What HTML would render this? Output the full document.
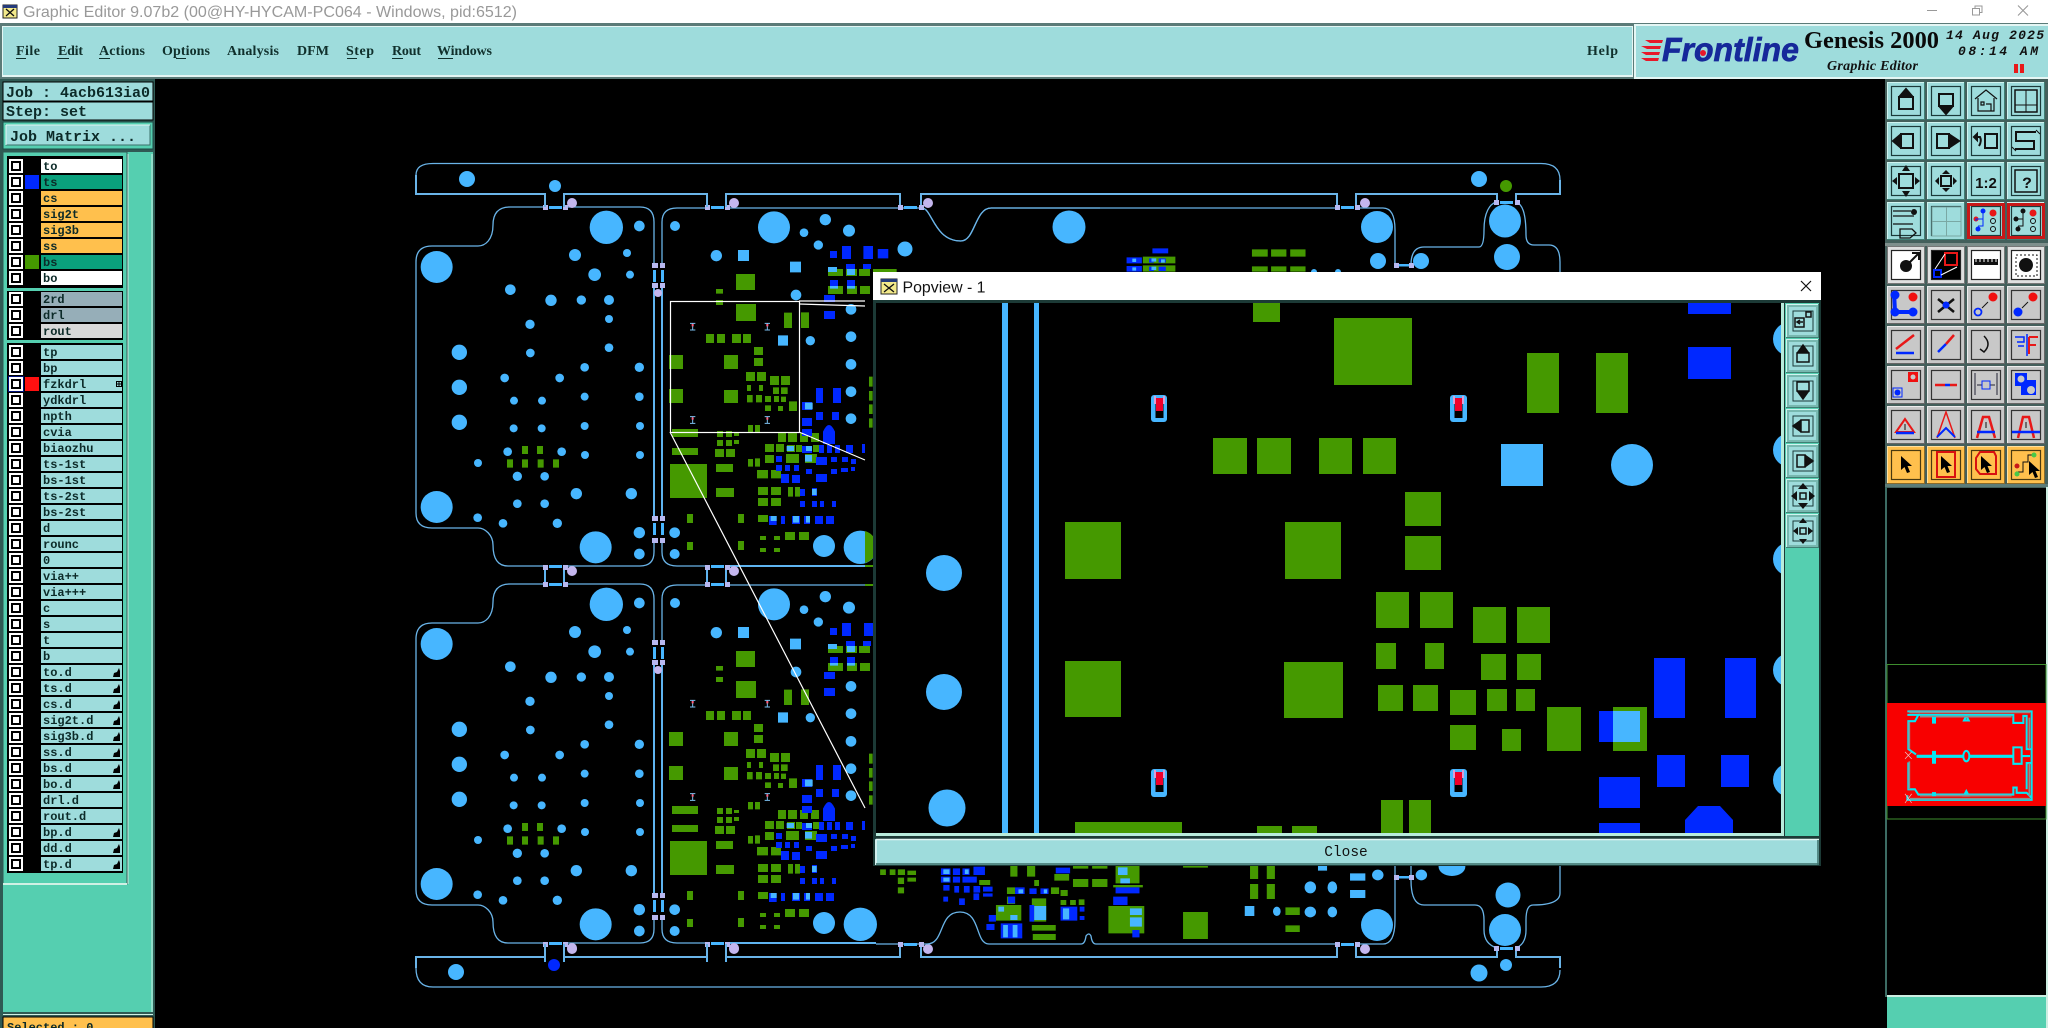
<!DOCTYPE html>
<html><head><meta charset="utf-8"><title>Graphic Editor</title>
<style>
html,body{margin:0;padding:0;background:#000;width:2048px;height:1028px;overflow:hidden}
svg{display:block}
.m{font:bold 14px "Liberation Serif",serif;fill:#10302c}
.r{font:bold 12px "Liberation Mono",monospace;fill:#0c2a28}
.h{font:bold 15px "Liberation Mono",monospace;fill:#0c2a28}
</style></head><body>
<svg width="2048" height="1028" viewBox="0 0 2048 1028" xmlns="http://www.w3.org/2000/svg">
<defs>
<g id="cb"><rect width="14" height="14" fill="#fff"/><rect x="2" y="2" width="10" height="10" fill="#000"/><rect x="4" y="4" width="6" height="6" fill="#fff"/></g>
<path id="hd" d="M0 9 1 5 4 4 6 0 7 3 7 9Z" fill="#000"/>
<g id="bT"><rect width="38" height="38" fill="#3f7f74"/><path d="M0 0H37V1H1V37H0Z" fill="#d0f4f0"/><rect x="1" y="1" width="36" height="36" fill="#9edcdc"/><rect x="4.500" y="4.500" width="29" height="29" fill="none" stroke="#1c3a3a" stroke-width="1.200"/></g>
<g id="bG"><rect width="38" height="38" fill="#666"/><path d="M0 0H37V1H1V37H0Z" fill="#eee"/><rect x="1" y="1" width="36" height="36" fill="#c8c8c8"/><rect x="4.500" y="4.500" width="29" height="29" fill="none" stroke="#333" stroke-width="1.200"/></g>
<g id="bW"><rect width="38" height="38" fill="#777"/><rect x="1" y="1" width="36" height="36" fill="#e0e0e0"/><rect x="4.500" y="4.500" width="29" height="29" fill="#fff" stroke="#222" stroke-width="1.200"/></g>
<g id="bO"><rect width="38" height="38" fill="#8a6a2a"/><path d="M0 0H37V1H1V37H0Z" fill="#ffe0a0"/><rect x="1" y="1" width="36" height="36" fill="#ffc04d"/><rect x="4.500" y="4.500" width="29" height="29" fill="none" stroke="#4a3a10" stroke-width="1.200"/></g>
<g id="bP"><rect width="33" height="34" fill="#3f7f74"/><path d="M0 0H32V1H1V33H0Z" fill="#d0f4f0"/><rect x="1" y="1" width="31" height="32" fill="#78b8b0"/><rect x="3" y="3" width="27" height="28" fill="#9edcdc"/><rect x="7" y="7" width="20" height="20" fill="none" stroke="#1c3a3a" stroke-width="1"/></g>
<path id="arw" d="M0 0 0 14 3.500 11 6 17 9 16 6.500 10 11 10Z" fill="#000"/>

<g id="L">
<g fill="none" stroke="#6ab4e8" stroke-width="1.300">
<path d="M545 207H510Q493 207 493 225C493 240 485 246 478 246H432Q416 246 416 262V513Q416 528 432 528H478C485 528 493 535 493 545Q493 566 508 566H545"/>
<path d="M564 207H640Q654 207 654 222V265M654 540V552Q654 566 640 566H564"/>
<path d="M662 265V222Q662 208 677 208H707M726 208H922C932 208 934 241 961 241C975 241 975 208 991 208H1100"/>
<path d="M662 540V552Q662 566 677 566H707"/>
</g>
<g fill="none" stroke="#5fb4f0" stroke-width="2">
<path d="M654 285V518M662 285V518M726 566H876M545 566V585M564 566V585M707 566V585M726 566V585"/>
</g>
<g fill="#b8b8f0">
<path d="M543 205h5v5h-5zM563 205h5v5h-5zM705 205h5v5h-5zM725 205h5v5h-5zM652 263h6v5h-6zM660 263h5v5h-5zM652 283h6v5h-6zM660 283h5v5h-5zM652 516h6v5h-6zM660 516h5v5h-5zM652 538h6v5h-6zM660 538h5v5h-5zM543 565h5v5h-5zM563 565h5v5h-5zM705 565h5v5h-5zM725 565h5v5h-5z"/>
</g>
<circle cx="572" cy="571" r="5" fill="#c4b6ee"/><circle cx="734" cy="571" r="5" fill="#c4b6ee"/><circle cx="658" cy="293" r="4" fill="#c4b6ee"/>
<path d="M549 206h13v3h-13zM711 206h13v3h-13zM653 270h3v12h-3zM661 270h3v12h-3zM653 523h3v12h-3zM661 523h3v12h-3zM549 565h13v3h-13zM711 565h13v3h-13z" fill="#47b6ff"/>
<g transform="translate(400 150) scale(.33333)">
<g fill="#47b6ff">
<circle cx="110" cy="351" r="48"/><circle cx="110" cy="1071" r="48"/><circle cx="619" cy="232" r="50"/><circle cx="587" cy="1192" r="48"/><circle cx="718" cy="228" r="16"/><circle cx="525" cy="315" r="18"/><circle cx="681" cy="309" r="12"/><circle cx="584" cy="374" r="19"/><circle cx="690" cy="374" r="12"/><circle cx="331" cy="419" r="16"/><circle cx="453" cy="451" r="17"/><circle cx="544" cy="450" r="14"/><circle cx="627" cy="450" r="15"/><circle cx="390" cy="523" r="14"/><circle cx="627" cy="507" r="12"/><circle cx="391" cy="609" r="13"/><circle cx="627" cy="593" r="13"/><circle cx="178" cy="607" r="23"/><circle cx="178" cy="712" r="23"/><circle cx="178" cy="817" r="23"/><circle cx="554" cy="652" r="13"/><circle cx="718" cy="652" r="14"/><circle cx="314" cy="684" r="13"/><circle cx="479" cy="684" r="13"/><circle cx="342" cy="752" r="12"/><circle cx="426" cy="752" r="12"/><circle cx="554" cy="740" r="12"/><circle cx="718" cy="740" r="13"/><circle cx="341" cy="835" r="12"/><circle cx="425" cy="835" r="12"/><circle cx="554" cy="828" r="12"/><circle cx="720" cy="828" r="12"/><circle cx="323" cy="905" r="13"/><circle cx="485" cy="905" r="13"/><circle cx="555" cy="915" r="12"/><circle cx="720" cy="915" r="12"/><circle cx="234" cy="939" r="12"/><circle cx="352" cy="979" r="14"/><circle cx="434" cy="979" r="13"/><circle cx="529" cy="1031" r="17"/><circle cx="694" cy="1031" r="17"/><circle cx="352" cy="1061" r="13"/><circle cx="434" cy="1061" r="13"/><circle cx="233" cy="1103" r="13"/><circle cx="309" cy="1120" r="13"/><circle cx="472" cy="1120" r="14"/><circle cx="718" cy="1148" r="17"/><circle cx="718" cy="1212" r="16"/>
<circle cx="1122" cy="232" r="48"/><circle cx="825" cy="228" r="15"/><circle cx="1276" cy="209" r="17"/><circle cx="1212" cy="248" r="13"/><circle cx="1347" cy="242" r="18"/><circle cx="1255" cy="285" r="14"/><circle cx="949" cy="317" r="17"/><circle cx="1188" cy="435" r="16"/><circle cx="1353" cy="478" r="16"/><circle cx="1231" cy="572" r="14"/><circle cx="1353" cy="560" r="16"/><circle cx="1353" cy="643" r="16"/><circle cx="1353" cy="725" r="16"/><circle cx="1353" cy="806" r="16"/><circle cx="824" cy="1148" r="16"/><circle cx="824" cy="1212" r="15"/><circle cx="1272" cy="1188" r="33"/><circle cx="1381" cy="1192" r="50"/>
<path d="M1014 300H1047V333H1014ZM1170 335H1203V367H1170ZM1134 556H1164V587H1134Z"/>
</g>
<path fill="#459900" d="M366 888H384V912H366ZM411 888H429V912H411ZM321 928H339V953H321ZM366 928H384V953H366ZM413 928H431V953H413ZM459 928H477V953H459ZM1008 372H1065V420H1008ZM1008 462H1068V513H1008ZM1152 488H1176V534H1152ZM1203 487H1227V534H1203ZM948 417H969V431H948ZM948 450H969V465H948ZM918 552H942V579H918ZM951 552H975V579H951ZM996 552H1023V579H996ZM1029 552H1053V579H1029ZM1062 591H1089V615H1062ZM1062 624H1089V648H1062ZM807 615H849V657H807ZM807 717H849V759H807ZM972 615H1014V657H972ZM972 720H1014V759H972ZM1038 666H1065V693H1038ZM1071 666H1098V693H1071ZM1110 678H1137V705H1110ZM1143 678H1170V705H1143ZM1041 705H1053V723H1041ZM1077 705H1089V723H1077ZM1119 712H1137V732H1119ZM1143 712H1163V732H1143ZM1041 735H1058V757H1041ZM1068 735H1086V757H1068ZM1095 738H1113V756H1095ZM1122 738H1137V756H1122ZM1143 740H1158V756H1143ZM1095 766H1113V783H1095ZM1134 768H1149V783H1134ZM1167 754H1191V783H1167ZM816 837H894V861H816ZM816 894H894V915H816ZM810 942H921V1044H810ZM948 942H999V966H948ZM948 1014H1002V1041H948ZM951 843H969V861H951ZM978 843H996V861H978ZM951 870H969V888H951ZM978 870H996V888H978ZM1002 849H1017V858H1002ZM1002 870H1017V882H1002ZM945 897H972V921H945ZM978 897H1005V921H978ZM1044 825H1059V847H1044ZM1065 825H1080V847H1065ZM1134 849H1158V876H1134ZM1164 849H1191V876H1164ZM1200 849H1224V876H1200ZM1233 849H1257V876H1233ZM1095 882H1122V906H1095ZM1128 882H1152V906H1128ZM1161 885H1185V906H1161ZM1188 885H1206V906H1188ZM1239 885H1260V906H1239ZM1044 927H1059V950H1044ZM1065 925H1080V950H1065ZM1095 915H1122V939H1095ZM1158 912H1197V939H1158ZM1215 912H1251V939H1215ZM1071 960H1104V985H1071ZM1113 960H1143V985H1113ZM1074 1011H1104V1035H1074ZM1113 1011H1143V1035H1113ZM1164 1011H1179V1040H1164ZM1185 1011H1200V1040H1185ZM1074 1044H1104V1068H1074ZM1113 1044H1143V1068H1113ZM1074 1095H1104V1116H1074ZM861 1092H879V1119H861ZM1014 1092H1032V1119H1014ZM861 1176H879V1200H861ZM1014 1173H1032V1200H1014ZM1080 1158H1098V1170H1080ZM1122 1158H1140V1170H1122ZM1080 1194H1098V1206H1080ZM1122 1194H1140V1206H1122ZM1155 1146H1185V1170H1155ZM1197 1146H1227V1170H1197ZM1284 357H1329V378H1284ZM1338 357H1371V378H1338ZM1377 357H1410V378H1377ZM1419 357H1490V378H1419ZM1284 408H1329V432H1284ZM1341 408H1371V432H1341ZM1380 408H1410V432H1380ZM1407 680H1418V710H1407ZM1407 723H1418V752H1407ZM1407 763H1418V792H1407ZM1407 805H1418V833H1407Z"/>
<path fill="#0028ff" d="M1290 303H1311V324H1290ZM1326 288H1353V327H1326ZM1392 288H1419V327H1392ZM1434 297H1464V324H1434ZM1338 342H1365V357H1338ZM1389 342H1413V357H1389ZM1290 390H1314V408H1290ZM1341 390H1365V408H1341ZM1272 435H1305V456H1272ZM1272 483H1305V507H1272ZM1248 714H1269V759H1248ZM1299 714H1323V759H1299ZM1206 756H1236V780H1206ZM1248 786H1269V810H1248ZM1296 786H1317V810H1296ZM1206 804H1236V828H1206ZM1206 837H1236V858H1206ZM1269 845Q1287 805 1305 845V882H1269ZM1206 888H1236V909H1206ZM1257 885H1272V909H1257ZM1281 885H1296V909H1281ZM1305 885H1320V909H1305ZM1338 885H1359V909H1338ZM1386 882H1395V909H1386ZM1128 918H1146V936H1128ZM1248 921H1281V945H1248ZM1293 921H1311V936H1293ZM1326 921H1344V936H1326ZM1353 927H1368V942H1353ZM1128 945H1146V963H1128ZM1155 945H1170V963H1155ZM1182 945H1197V963H1182ZM1218 957H1236V972H1218ZM1293 957H1311V972H1293ZM1323 954H1344V966H1323ZM1353 951H1365V963H1353ZM1143 972H1167V999H1143ZM1176 975H1200V999H1176ZM1248 972H1281V996H1248ZM1200 1017H1215V1038H1200ZM1236 1014H1251V1038H1236ZM1200 1053H1215V1071H1200ZM1236 1053H1251V1071H1236ZM1260 1053H1272V1071H1260ZM1296 1053H1308V1071H1296ZM1107 1098H1130V1125H1107ZM1143 1098H1155V1122H1143ZM1176 1098H1200V1122H1176ZM1212 1098H1230V1122H1212ZM1245 1098H1269V1122H1245ZM1278 1098H1302V1122H1278Z"/>
<path fill="#47b6ff" d="M1284 351H1311V366H1284ZM1341 357H1365V375H1341ZM1290 408H1314V416H1290ZM1341 408H1365V416H1341ZM1215 758H1238V778H1215ZM1112 1098H1130V1113H1112ZM1179 1098H1197V1118H1179ZM1218 1098H1230V1118H1218ZM1160 888H1182V903H1160ZM1218 888H1236V903H1218ZM1236 1017H1250V1035H1236ZM1215 915H1236V935H1215Z"/>
<g fill="none" stroke="#7cc0f0" stroke-width="3"><path d="M870 520H886M870 540H886M878 520V540M1094 520H1110M1094 540H1110M1102 520V540M870 800H886M870 820H886M878 800V820M1094 800H1110M1094 820H1110M1102 800V820"/></g>
<path d="M875 522h6v7h-6zM1099 522h6v7h-6zM875 802h6v7h-6zM1099 802h6v7h-6z" fill="#ff5a78"/>
</g>
</g>
</defs>

<rect width="2048" height="1028" fill="#000"/>

<use href="#L"/>
<use href="#L" y="377"/>
<path d="M865 531A16.700 16.700 0 0 1 865 563ZM865 565h9v2h-9zM865 584h9v2h-9z" fill="#459900"/>

<!-- rails -->
<g fill="none" stroke="#6ab4e8">
<path stroke-width="1.300" d="M416 175Q416 163.500 433 163.500H1541Q1560 163.500 1560 180"/>
<path stroke-width="2" d="M416 175V194H545V207M564 207V194H707V207M726 207V194H900V207M921 207V194H1337V207M1356 207V194H1497V202M1516 202V194H1560V180"/>
<path stroke-width="2" d="M416 968V957H545V944M564 944V957H707V944M726 944V957H900V944M921 944V957H1337V944M1356 944V957H1497V948M1516 948V957H1560V968"/>
<path stroke-width="1.300" d="M416 968Q416 987 433 987H1541Q1560 987 1560 970"/>
</g>
<g fill="#47b6ff"><circle cx="467" cy="179" r="8"/><circle cx="555" cy="186" r="6"/><circle cx="456" cy="972" r="8"/><circle cx="1479" cy="179" r="8"/><circle cx="1479" cy="973" r="8.500"/><circle cx="1506" cy="965" r="6"/></g>
<circle cx="1506" cy="186" r="6" fill="#459900"/><circle cx="554" cy="965" r="6" fill="#0028ff"/>
<g fill="#c4b6ee"><circle cx="572" cy="203" r="5"/><circle cx="734" cy="203" r="5"/><circle cx="928" cy="203" r="5"/><circle cx="1365" cy="203" r="5"/><circle cx="572" cy="949" r="5"/><circle cx="734" cy="949" r="5"/><circle cx="928" cy="949" r="5"/><circle cx="1365" cy="949" r="5"/></g>

<!-- right side of outlines -->
<g fill="none" stroke="#6ab4e8" stroke-width="1.300">
<path d="M922 208C932 208 934 241 961 241C975 241 975 208 991 208H1337M1356 208H1383Q1395 208 1395 230V265M1411 265Q1411 247 1424 247H1479Q1484 247 1484 230C1484 212 1490 204 1496 202M1516 202C1522 204 1526 212 1526 235Q1526 245 1534 245H1549Q1560 245 1560 262V280"/>
<path d="M1560 860V893Q1560 905 1533 905Q1526 905 1526 920V930Q1526 944 1516 948M1497 948Q1484 944 1484 930V920Q1484 905 1475 905H1424Q1411 905 1411 880V866M1395 866V920Q1395 944 1383 944H1356M1337 944H1096Q1092 944 1091 936Q1089 932 1086 936Q1085 944 1081 944H989C975 944 981 912 960 912C938 912 945 944 927 944H876"/>
</g>
<path d="M1396 264h15v2.500h-15zM1500 201h13v3h-13zM1500 947h13v3h-13zM1396 876h15v2.500h-15zM904 206h13v3h-13zM1341 206h13v3h-13zM904 943h13v3h-13zM1341 943h13v3h-13z" fill="#47b6ff"/>
<path d="M898 205h5v5h-5zM919 205h5v5h-5zM1335 205h5v5h-5zM1355 205h5v5h-5zM1494 200h5v5h-5zM1515 200h5v5h-5zM1394 263h5v5h-5zM1409 263h5v5h-5zM898 942h5v5h-5zM919 942h5v5h-5zM1335 942h5v5h-5zM1355 942h5v5h-5zM1494 946h5v5h-5zM1515 946h5v5h-5zM1394 875h5v5h-5zM1409 875h5v5h-5z" fill="#b8b8f0"/>

<!-- top cluster -->
<g fill="#47b6ff"><circle cx="905" cy="249" r="7.500"/><circle cx="1069" cy="227" r="16.500"/><circle cx="1377" cy="227" r="16"/><ellipse cx="1505" cy="221" rx="16" ry="16.500"/><circle cx="1507" cy="257" r="13"/><circle cx="1378" cy="261" r="8"/><circle cx="1421" cy="261" r="8"/><circle cx="1314" cy="272" r="3"/><circle cx="1338" cy="272" r="3"/></g>
<g transform="translate(850 150) scale(.4785 .3333)">
<path fill="#459900" d="M840 298H873V320H840ZM880 298H912V320H880ZM920 298H952V320H920ZM840 349H873V365H840ZM880 349H912V365H880ZM920 349H952V365H920ZM612 320H680V340H612ZM612 346H680V365H612Z"/>
<path fill="#0028ff" d="M632 295H665V310H632ZM578 322H610V340H578ZM578 348H610V365H578ZM28 288H48V327H28ZM58 297H80V325H58ZM625 325H635V338H625ZM645 325H660V338H645ZM625 350H635V363H625ZM645 350H660V363H645Z"/>
<path fill="#47b6ff" d="M590 326H598V336H590ZM630 325H640V335H630ZM650 328H658V338H650ZM590 352H598V362H590ZM630 350H640V360H630Z"/>
</g>

<!-- bottom clusters -->
<g fill="#47b6ff"><circle cx="1377" cy="925" r="16"/><circle cx="1508" cy="895" r="12.500"/><circle cx="1505" cy="930" r="16"/></g>
<g transform="translate(850 830) scale(.4785 .3333)">
<g fill="#47b6ff"><ellipse cx="962" cy="172" rx="12" ry="18"/><ellipse cx="1008" cy="172" rx="10" ry="18"/><ellipse cx="892" cy="244" rx="8" ry="14"/><ellipse cx="962" cy="246" rx="12" ry="16"/><ellipse cx="1008" cy="246" rx="10" ry="16"/><ellipse cx="1103" cy="135" rx="12" ry="16"/><ellipse cx="1194" cy="135" rx="12" ry="16"/><ellipse cx="1258" cy="110" rx="28" ry="28"/>
<path d="M1045 130H1077V152H1045ZM1045 180H1077V204H1045ZM825 228H845V258H825ZM978 108H997V122H978Z"/></g>
<path fill="#459900" d="M63 118H75V135H63ZM83 118H95V135H83ZM100 118H115V135H100ZM120 122H138V135H120ZM100 143H113V162H100ZM120 143H138V155H120ZM100 172H113V190H100ZM270 150H293V165H270ZM335 108H350V140H335ZM370 108H387V140H370ZM427 132H458V152H427ZM385 150H395V168H385ZM466 147H498V171H466ZM506 147H538V171H506ZM328 172H345V192H328ZM420 172H437V192H420ZM440 180H455V198H440ZM555 108H605V160H555ZM550 165H612V172H550ZM910 232H940V255H910ZM910 286H940V306H910ZM696 246H748V327H696ZM836 108H853V147H836ZM871 108H888V147H871ZM836 162H853V207H836ZM871 162H888V207H871ZM440 210H452V225H440ZM460 210H472V225H460ZM478 208H490V225H478ZM380 205H410V275H380ZM540 228H615V310H540ZM305 225H358V272H305ZM380 285H430V302H380ZM382 312H430V330H382ZM328 200H345V222H328ZM696 108H748V113H696ZM466 108H498V116H466ZM506 108H538V116H506Z"/>
<path fill="#0028ff" d="M190 115H210V135H190ZM215 115H230V135H215ZM235 115H250V135H235ZM258 110H282V135H258ZM190 140H210V158H190ZM215 140H230V158H215ZM235 140H265V158H235ZM195 165H208V182H195ZM218 168H228V188H218ZM238 168H250V188H238ZM258 168H272V188H258ZM278 170H298V185H278ZM195 200H205V215H195ZM228 205H240V225H228ZM258 190H270V210H258ZM278 190H298V200H278ZM430 113H460V130H430ZM290 255H305V275H290ZM285 282H302V300H285ZM315 280H360V325H315ZM345 172H365V192H345ZM375 175H390V192H375ZM398 175H415V192H398ZM440 230H475V272H440ZM480 230H490V245H480ZM480 258H490V270H480ZM555 172H605V190H555ZM550 200H580V225H550ZM590 300H605V322H590ZM375 225H385V275H375ZM330 200H345V220H330Z"/>
<path fill="#47b6ff" d="M195 118H208V132H195ZM240 118H248V132H240ZM195 143H208V155H195ZM310 230H322V245H310ZM335 255H350V270H335ZM320 285H330V322H320ZM340 285H350V322H340ZM385 228H410V270H385ZM445 235H458V268H445ZM560 112H580V135H560ZM565 145H585V160H565ZM585 235H610V255H585ZM585 262H610V290H585ZM352 178H362V190H352ZM405 178H412V190H405Z"/>
</g>

<!-- rubber band -->
<g fill="none" stroke="#fff" stroke-width="1.200">
<rect x="670.500" y="301.500" width="129" height="131"/>
<path d="M799 301H865M799 304 865 306M799 432 865 460M670 432 865 808"/>
</g>

<!-- title bar -->
<rect width="2048" height="23" fill="#fff"/>
<rect y="23" width="2048" height="3" fill="#5b7b78"/>
<rect x="3" y="5" width="14" height="13" fill="#f3e98a" stroke="#222"/><rect x="3" y="5" width="14" height="3" fill="#243a7a"/><path d="M6 9 14 16M14 9 6 16" stroke="#111" stroke-width="1.300"/>
<text x="23" y="17" font-family="'Liberation Sans',sans-serif" font-size="16" fill="#999" textLength="494" lengthAdjust="spacingAndGlyphs">Graphic Editor 9.07b2 (00@HY-HYCAM-PC064 - Windows, pid:6512)</text>
<path d="M1927 10.500H1937" stroke="#999"/><rect x="1972.500" y="8.500" width="7" height="6.500" fill="#fff" stroke="#999"/><path d="M1975 8V6H1982V12.500H1980" fill="none" stroke="#999"/><path d="M2018 5.500 2028 15.500M2028 5.500 2018 15.500" stroke="#999" stroke-width="1.100"/>

<!-- menu -->
<rect x="0" y="26" width="1634" height="53" fill="#5b7b78"/>
<rect x="2" y="26" width="1631" height="51" fill="#e4f6f4"/>
<rect x="3" y="27" width="1629" height="48" fill="#9edcdc"/>
<text class="m" x="16" y="55" textLength="24">File</text>
<text class="m" x="58" y="55" textLength="25">Edit</text>
<text class="m" x="99" y="55" textLength="46">Actions</text>
<text class="m" x="162" y="55" textLength="48">Options</text>
<text class="m" x="227" y="55" textLength="52">Analysis</text>
<text class="m" x="297" y="55" textLength="32">DFM</text>
<text class="m" x="346" y="55" textLength="28">Step</text>
<text class="m" x="392" y="55" textLength="29">Rout</text>
<text class="m" x="437" y="55" textLength="55">Windows</text>
<path d="M16 58.500H26M57 58.500H69M99 58.500H110M176 58.500H186M347 58.500H357M392 58.500H403M438 58.500H453" stroke="#10302c"/>
<text class="m" x="1587" y="55" textLength="31">Help</text>

<!-- logo -->
<rect x="1634" y="24" width="414" height="55" fill="#e4f6f4"/>
<rect x="1636" y="26" width="412" height="51" fill="#9edcdc"/>
<path d="M1645 40H1663L1662 43H1650ZM1641 46H1661L1660 49H1647ZM1641 52H1660L1659 55H1646ZM1641 58H1659L1658 61H1646Z" fill="#e8182a"/>
<text transform="translate(1662 61) scale(.97 1)" font-family="'Liberation Sans',sans-serif" font-weight="bold" font-style="italic" font-size="33" fill="#16289a" stroke="#16289a" stroke-width=".7">Frontline</text>
<circle cx="1703" cy="53" r="3" fill="#e8182a"/>
<text x="1804" y="48" font-family="'Liberation Serif',serif" font-weight="bold" font-size="24" fill="#0a0a0a" textLength="135" lengthAdjust="spacingAndGlyphs">Genesis 2000</text>
<text x="1946" y="39" font-family="'Liberation Mono',monospace" font-weight="bold" font-style="italic" font-size="13" fill="#111" textLength="98">14 Aug 2025</text>
<text x="1958" y="55" font-family="'Liberation Mono',monospace" font-weight="bold" font-style="italic" font-size="13" fill="#111" textLength="80">08:14 AM</text>
<text x="1827" y="70" font-family="'Liberation Serif',serif" font-weight="bold" font-style="italic" font-size="14" fill="#111" textLength="91">Graphic Editor</text>
<path d="M2014 64h4v9h-4zM2020 64h4v9h-4z" fill="#e81a1a"/>

<!-- left panel -->
<rect x="0" y="79" width="155" height="949" fill="#2f5a54"/>
<rect x="3" y="82" width="150" height="19" fill="#9edcdc" stroke="#000"/>
<rect x="3" y="102" width="150" height="18" fill="#9edcdc" stroke="#000"/>
<text class="h" x="6" y="97">Job : 4acb613ia0</text>
<text class="h" x="6" y="116">Step: set</text>
<rect x="3" y="122" width="150" height="27" fill="#55cfb0" stroke="#1c4a44"/>
<rect x="6" y="125" width="144" height="20" fill="#9edcdc" stroke="#3b6f6a"/><path d="M6 125H150M6 125V145" stroke="#e4f6f4"/>
<text class="h" x="10" y="141">Job Matrix ...</text>
<rect x="3" y="152" width="150" height="860" fill="#55cfb0"/>
<rect x="3" y="152" width="124" height="732" fill="#55cfb0" stroke="#2f5a54"/>
<path d="M128 154V884M152 154V1012" stroke="#cdeee2" stroke-width="1"/>
<path d="M3 884H127" stroke="#d0f0e4" stroke-width="2"/>
<rect x="7" y="156" width="116" height="132" fill="#000"/><rect x="7" y="291" width="116" height="49" fill="#000"/><rect x="7" y="343" width="116" height="530" fill="#000"/>
<rect x="3" y="1014" width="150" height="1" fill="#d0f0e4"/>
<rect x="3" y="1017" width="150" height="12" fill="#ffc04d" stroke="#000"/>
<text class="r" x="7" y="1031">Selected : 0</text>

<!-- layer rows -->
<g>
<use href="#cb" x="9" y="159"/><use href="#cb" x="9" y="175"/><use href="#cb" x="9" y="191"/><use href="#cb" x="9" y="207"/><use href="#cb" x="9" y="223"/><use href="#cb" x="9" y="239"/><use href="#cb" x="9" y="255"/><use href="#cb" x="9" y="271"/><use href="#cb" x="9" y="292"/><use href="#cb" x="9" y="308"/><use href="#cb" x="9" y="324"/>
<rect x="25" y="175" width="14" height="14" fill="#0028ff"/><rect x="25" y="255" width="14" height="14" fill="#459900"/>
<path fill="#fff" d="M41 159h81v14h-81zM41 271h81v14h-81z"/>
<path fill="#0aa07c" d="M41 175h81v14h-81zM41 255h81v14h-81z"/>
<path fill="#ffc04d" d="M41 191h81v14h-81zM41 207h81v14h-81zM41 223h81v14h-81zM41 239h81v14h-81z"/>
<path fill="#96aeb8" d="M41 292h81v14h-81zM41 308h81v14h-81z"/>
<rect x="41" y="324" width="81" height="14" fill="#d8d8d8"/>
<text class="r" x="43" y="170">to</text><text class="r" x="43" y="186">ts</text><text class="r" x="43" y="202">cs</text><text class="r" x="43" y="218">sig2t</text><text class="r" x="43" y="234">sig3b</text><text class="r" x="43" y="250">ss</text><text class="r" x="43" y="266">bs</text><text class="r" x="43" y="282">bo</text><text class="r" x="43" y="303">2rd</text><text class="r" x="43" y="319">drl</text><text class="r" x="43" y="335">rout</text>
<g fill="#9edcdc"><rect x="41" y="345" width="81" height="14"/><rect x="41" y="361" width="81" height="14"/><rect x="41" y="377" width="81" height="14"/><rect x="41" y="393" width="81" height="14"/><rect x="41" y="409" width="81" height="14"/><rect x="41" y="425" width="81" height="14"/><rect x="41" y="441" width="81" height="14"/><rect x="41" y="457" width="81" height="14"/><rect x="41" y="473" width="81" height="14"/><rect x="41" y="489" width="81" height="14"/><rect x="41" y="505" width="81" height="14"/><rect x="41" y="521" width="81" height="14"/><rect x="41" y="537" width="81" height="14"/><rect x="41" y="553" width="81" height="14"/><rect x="41" y="569" width="81" height="14"/><rect x="41" y="585" width="81" height="14"/><rect x="41" y="601" width="81" height="14"/><rect x="41" y="617" width="81" height="14"/><rect x="41" y="633" width="81" height="14"/><rect x="41" y="649" width="81" height="14"/><rect x="41" y="665" width="81" height="14"/><rect x="41" y="681" width="81" height="14"/><rect x="41" y="697" width="81" height="14"/><rect x="41" y="713" width="81" height="14"/><rect x="41" y="729" width="81" height="14"/><rect x="41" y="745" width="81" height="14"/><rect x="41" y="761" width="81" height="14"/><rect x="41" y="777" width="81" height="14"/><rect x="41" y="793" width="81" height="14"/><rect x="41" y="809" width="81" height="14"/><rect x="41" y="825" width="81" height="14"/><rect x="41" y="841" width="81" height="14"/><rect x="41" y="857" width="81" height="14"/></g>
<use href="#cb" x="9" y="345"/><use href="#cb" x="9" y="361"/><rect x="8" y="376" width="16" height="16" fill="#00107a"/><use href="#cb" x="9" y="377"/><use href="#cb" x="9" y="393"/><use href="#cb" x="9" y="409"/><use href="#cb" x="9" y="425"/><use href="#cb" x="9" y="441"/><use href="#cb" x="9" y="457"/><use href="#cb" x="9" y="473"/><use href="#cb" x="9" y="489"/><use href="#cb" x="9" y="505"/><use href="#cb" x="9" y="521"/><use href="#cb" x="9" y="537"/><use href="#cb" x="9" y="553"/><use href="#cb" x="9" y="569"/><use href="#cb" x="9" y="585"/><use href="#cb" x="9" y="601"/><use href="#cb" x="9" y="617"/><use href="#cb" x="9" y="633"/><use href="#cb" x="9" y="649"/><use href="#cb" x="9" y="665"/><use href="#cb" x="9" y="681"/><use href="#cb" x="9" y="697"/><use href="#cb" x="9" y="713"/><use href="#cb" x="9" y="729"/><use href="#cb" x="9" y="745"/><use href="#cb" x="9" y="761"/><use href="#cb" x="9" y="777"/><use href="#cb" x="9" y="793"/><use href="#cb" x="9" y="809"/><use href="#cb" x="9" y="825"/><use href="#cb" x="9" y="841"/><use href="#cb" x="9" y="857"/>
<rect x="25" y="377" width="14" height="14" fill="#ff1010"/>
<text class="r" x="43" y="356">tp</text><text class="r" x="43" y="372">bp</text><text class="r" x="43" y="388">fzkdrl</text><text class="r" x="43" y="404">ydkdrl</text><text class="r" x="43" y="420">npth</text><text class="r" x="43" y="436">cvia</text><text class="r" x="43" y="452">biaozhu</text><text class="r" x="43" y="468">ts-1st</text><text class="r" x="43" y="484">bs-1st</text><text class="r" x="43" y="500">ts-2st</text><text class="r" x="43" y="516">bs-2st</text><text class="r" x="43" y="532">d</text><text class="r" x="43" y="548">rounc</text><text class="r" x="43" y="564">0</text><text class="r" x="43" y="580">via++</text><text class="r" x="43" y="596">via+++</text><text class="r" x="43" y="612">c</text><text class="r" x="43" y="628">s</text><text class="r" x="43" y="644">t</text><text class="r" x="43" y="660">b</text><text class="r" x="43" y="676">to.d</text><text class="r" x="43" y="692">ts.d</text><text class="r" x="43" y="708">cs.d</text><text class="r" x="43" y="724">sig2t.d</text><text class="r" x="43" y="740">sig3b.d</text><text class="r" x="43" y="756">ss.d</text><text class="r" x="43" y="772">bs.d</text><text class="r" x="43" y="788">bo.d</text><text class="r" x="43" y="804">drl.d</text><text class="r" x="43" y="820">rout.d</text><text class="r" x="43" y="836">bp.d</text><text class="r" x="43" y="852">dd.d</text><text class="r" x="43" y="868">tp.d</text>
<use href="#hd" x="113" y="668"/><use href="#hd" x="113" y="684"/><use href="#hd" x="113" y="700"/><use href="#hd" x="113" y="716"/><use href="#hd" x="113" y="732"/><use href="#hd" x="113" y="748"/><use href="#hd" x="113" y="764"/><use href="#hd" x="113" y="780"/><use href="#hd" x="113" y="828"/><use href="#hd" x="113" y="844"/><use href="#hd" x="113" y="860"/>
<path d="M116.500 381.500h5v5h-5zM119 381.500v5M116.500 384h5" fill="none" stroke="#000"/>
</g>

<!-- right toolbar -->
<rect x="1885" y="79" width="163" height="409" fill="#44605c"/>
<rect x="1885" y="243" width="163" height="3" fill="#7f8f8c"/>
<rect x="1885" y="484" width="163" height="3" fill="#5c7c78"/>
<rect x="1885" y="487" width="2" height="510" fill="#3c6c64"/>
<rect x="2046" y="487" width="2" height="541" fill="#cdeee2"/>

<g id="tools">
<use href="#bT" x="1887" y="82"/><use href="#bT" x="1927" y="82"/><use href="#bT" x="1967" y="82"/><use href="#bT" x="2007" y="82"/>
<use href="#bT" x="1887" y="122"/><use href="#bT" x="1927" y="122"/><use href="#bT" x="1967" y="122"/><use href="#bT" x="2007" y="122"/>
<use href="#bT" x="1887" y="162"/><use href="#bT" x="1927" y="162"/><use href="#bT" x="1967" y="162"/><use href="#bT" x="2007" y="162"/>
<use href="#bT" x="1887" y="202"/><use href="#bT" x="1927" y="202"/><use href="#bT" x="1967" y="202"/><use href="#bT" x="2007" y="202"/>
<use href="#bW" x="1887" y="246"/><use href="#bW" x="1927" y="246"/><use href="#bW" x="1967" y="246"/><use href="#bW" x="2007" y="246"/>
<use href="#bG" x="1887" y="286"/><use href="#bG" x="1927" y="286"/><use href="#bG" x="1967" y="286"/><use href="#bG" x="2007" y="286"/>
<use href="#bG" x="1887" y="326"/><use href="#bG" x="1927" y="326"/><use href="#bG" x="1967" y="326"/><use href="#bG" x="2007" y="326"/>
<use href="#bG" x="1887" y="366"/><use href="#bG" x="1927" y="366"/><use href="#bG" x="1967" y="366"/><use href="#bG" x="2007" y="366"/>
<use href="#bG" x="1887" y="406"/><use href="#bG" x="1927" y="406"/><use href="#bG" x="1967" y="406"/><use href="#bG" x="2007" y="406"/>
<use href="#bO" x="1887" y="446"/><use href="#bO" x="1927" y="446"/><use href="#bO" x="1967" y="446"/><use href="#bO" x="2007" y="446"/>
</g>
<g fill="none" stroke="#111" stroke-width="2">
<rect x="1899" y="97" width="14" height="12"/><path d="M1906 89 1900 96H1912Z" fill="#111"/>
<rect x="1939" y="94" width="14" height="12"/><path d="M1946 114 1940 107H1952Z" fill="#111"/>
<path stroke-width="1.200" d="M1975 99 1986 90 1997 99M1978 98V111H1994V98M1986 104H1991V111M1981 102H1984V105H1981Z"/>
<rect x="2015" y="90" width="22" height="22" stroke-width="1.500"/><path stroke-width="1" d="M2026 90V112M2015 105H2037"/>
<rect x="1901" y="134" width="12" height="14"/><path d="M1893 141 1900 135V147Z" fill="#111"/>
<rect x="1937" y="134" width="12" height="14"/><path d="M1959 141 1950 135V147Z" fill="#111"/>
<rect x="1985" y="134" width="12" height="14"/><path d="M1975 137H1980Q1982 141 1979 146M1974 137 1977 134V140Z"/>
<path d="M2036 132H2016V141H2034V149H2015"/><path stroke-width="1" d="M2036 130 2040 134M2012 147 2016 151"/>
<rect x="1899" y="174" width="14" height="14"/><path fill="#111" stroke="none" d="M1906 165 1902 171H1910ZM1906 197 1902 191H1910ZM1892 181 1897 177V185ZM1920 181 1915 177V185Z"/>
<rect x="1941" y="176" width="10" height="10"/><path fill="#111" stroke="none" d="M1946 170 1942 174H1950ZM1946 192 1942 188H1950ZM1935 181 1939 177V185ZM1957 181 1953 177V185Z"/>
<rect x="2015" y="170" width="22" height="22" stroke-width="1.500"/>
<path stroke-width="1.300" d="M1893 211H1911M1893 216H1914M1893 224H1913M1900 229H1912L1916 233 1910 238H1900Z"/><circle cx="1914" cy="212" r="3" fill="#111" stroke="none"/>
</g>
<text x="1986" y="188" font-family="'Liberation Sans',sans-serif" font-weight="bold" font-size="15" text-anchor="middle" fill="#111">1:2</text>
<text x="2027" y="188" font-family="'Liberation Mono',monospace" font-weight="bold" font-size="16" text-anchor="middle" fill="#111">?</text>
<path d="M1932 207H1961V236H1932ZM1946.500 207V236M1932 221.500H1961" fill="#9edcdc" stroke="#7aa8a4"/>
<rect x="1968.500" y="204.500" width="35" height="33" fill="none" stroke="#c81818" stroke-width="3"/>
<rect x="2008.500" y="204.500" width="35" height="33" fill="none" stroke="#c81818" stroke-width="3"/>
<circle cx="1993" cy="213" r="3.500" fill="#e81818"/><circle cx="1983" cy="211" r="2.500" fill="#0028ff"/><circle cx="1976" cy="219" r="2.500" fill="#e81818"/><circle cx="1978" cy="229" r="2.500" fill="#0028ff"/>
<path d="M1983 213V226H1978M1976 221V219H1983" stroke="#0028ff" fill="none"/><circle cx="1993" cy="221" r="2.500" fill="none" stroke="#111"/><circle cx="1993" cy="229" r="2.500" fill="none" stroke="#111"/>
<circle cx="2033" cy="213" r="3.500" fill="#e81818"/><circle cx="2023" cy="211" r="2.500" fill="#111"/><circle cx="2016" cy="219" r="2.500" fill="#111"/><circle cx="2018" cy="229" r="2.500" fill="#111"/>
<path d="M2023 213V226H2018M2018 219H2023" stroke="#111" fill="none"/><circle cx="2033" cy="221" r="2.500" fill="none" stroke="#111"/><circle cx="2033" cy="229" r="2.500" fill="none" stroke="#111"/>

<circle cx="1906" cy="266" r="6" fill="#111"/><path d="M1910 262 1918 254M1912 253H1919V260" stroke="#111" stroke-width="2" fill="none"/>
<rect x="1932" y="251" width="28" height="28" fill="#000"/><rect x="1945" y="253" width="12" height="12" fill="none" stroke="#e81818" stroke-width="2"/><rect x="1934" y="270" width="7" height="7" fill="none" stroke="#0028ff" stroke-width="2"/><path d="M1935 269 1945 254M1941 275 1957 267" stroke="#fff"/>
<path d="M1974 259H1998V265H1974Z" fill="#111"/><path d="M1976 259V262M1980 259V262M1984 259V262M1988 259V262M1992 259V262M1996 259V262" stroke="#fff"/>
<circle cx="2026" cy="265" r="7" fill="#111"/><rect x="2016" y="255" width="21" height="21" fill="none" stroke="#111" stroke-dasharray="2 2"/>
<path d="M1894 292 1895 312H1912" stroke="#0028ff" stroke-width="4" fill="none"/><circle cx="1895" cy="295" r="4.500" fill="#0028ff"/><circle cx="1895" cy="312" r="4.500" fill="#0028ff"/><circle cx="1913" cy="312" r="4.500" fill="#0028ff"/><circle cx="1913" cy="297" r="4.500" fill="#f01010"/>
<path d="M1938 299 1954 312M1954 299 1938 312" stroke="#111" stroke-width="2.500"/><circle cx="1946" cy="305" r="3.500" fill="#0028ff"/>
<circle cx="1993" cy="297" r="4.500" fill="#f01010"/><circle cx="1978" cy="312" r="3.500" fill="none" stroke="#0028ff" stroke-width="1.800"/><path d="M1982 308 1988 302" stroke="#111"/>
<circle cx="2033" cy="297" r="4.500" fill="#f01010"/><circle cx="2018" cy="312" r="4.500" fill="#0028ff"/><path d="M2022 308 2028 302" stroke="#111"/>
<path d="M1896 349 1914 335" stroke="#e81818" stroke-width="2.500"/><path d="M1896 353H1914" stroke="#0028ff" stroke-width="2.500"/>
<path d="M1938 352 1946 344" stroke="#0028ff" stroke-width="2.500"/><path d="M1946 344 1954 335" stroke="#e81818" stroke-width="2.500"/>
<path d="M1984 336Q1992 344 1984 352L1980 349" stroke="#111" stroke-width="1.500" fill="none"/>
<path d="M2015 337H2024V342H2017M2018 346H2024M2027 334V356" stroke="#0028ff" stroke-width="1.500" fill="none"/><path d="M2029 337H2038M2029 337V354M2029 345H2036" stroke="#e81818" stroke-width="2" fill="none"/>
<rect x="1908" y="372" width="10" height="10" fill="#f01010"/><circle cx="1913" cy="377" r="2.500" fill="#c8c8c8"/><rect x="1893" y="388" width="9" height="9" fill="none" stroke="#0028ff"/><circle cx="1897.500" cy="392.500" r="3" fill="#0028ff"/>
<path d="M1935 385H1945" stroke="#e81818" stroke-width="2.500"/><path d="M1945 385H1950" stroke="#0028ff" stroke-width="2.500"/><path d="M1950 385H1957" stroke="#e81818" stroke-width="2.500"/>
<path d="M1975 373V395M1997 373V395M1977 385H1982M1990 385H1995" stroke="#223" stroke-width="1" fill="none"/><rect x="1982" y="381" width="8" height="8" fill="none" stroke="#0028ff"/>
<path d="M2015 373H2027V380H2036V395H2021V386H2015Z" fill="#0028ff"/><circle cx="2021" cy="379" r="3.500" fill="#c8c8c8"/><circle cx="2031" cy="390" r="4" fill="#c8c8c8"/>
<path d="M1896 432H1914L1905 419Z" fill="none" stroke="#e81818" stroke-width="2"/><path d="M1896 433H1914" stroke="#0028ff" stroke-width="2.500"/><path d="M1905 430V424" stroke="#111"/>
<path d="M1937 438 1946 412 1955 438" fill="none" stroke="#e81818" stroke-width="1.500"/><path d="M1937 437 1946 428 1955 437" fill="none" stroke="#0028ff" stroke-width="2"/>
<path d="M1977 438 1983 417H1989L1995 438" fill="none" stroke="#e81818" stroke-width="2.500"/><path d="M1977 432H1995" stroke="#0028ff" stroke-width="2.500"/><path d="M1986 428V422" stroke="#111"/>
<path d="M2018 438 2023 417H2029L2034 438" fill="none" stroke="#e81818" stroke-width="2.500"/><path d="M2012 432H2040" stroke="#0028ff" stroke-width="2.500"/><path d="M2026 428V422" stroke="#111"/>
<use href="#arw" x="1901" y="456"/>
<rect x="1937" y="452" width="18" height="25" fill="none" stroke="#d81010" stroke-width="2"/><use href="#arw" x="1941" y="456"/>
<path d="M1980 452H1994L1996 456V474H1980L1976 469V458Z" fill="none" stroke="#d81010" stroke-width="2"/><use href="#arw" x="1981" y="456"/>
<path d="M2016 472H2023V462H2028V455H2034" fill="none" stroke="#111"/><circle cx="2017" cy="466" r="2.500" fill="#c81818"/><circle cx="2017" cy="474" r="2.500" fill="#48c848"/><circle cx="2034" cy="455" r="2.500" fill="#48c848"/><use href="#arw" x="2029" y="461"/>

<!-- minimap -->
<rect x="1887" y="664.500" width="159" height="154.500" fill="none" stroke="#3e8e2e"/>
<rect x="1887" y="703" width="159" height="103" fill="#f80000"/>
<g transform="translate(1870 480) scale(.33333 .3495)">
<g fill="none" stroke="#04e8f4" stroke-width="6">
<path d="M112 662H485V915H112V902"/>
<path d="M112 672H145L135 690H115V770L138 785M115 808V885H135L145 900H430V880H440V895H470L485 910"/>
<path d="M145 672H430V695H460V675H470V770H485"/>
<path d="M430 765H455V812H430ZM455 790H480M140 790H430"/>
<path d="M485 810H470V885M289 675 282 688H296ZM289 890 282 903H296Z"/>
</g>
<path d="M118 665H480M150 677H425M118 692V770M118 805V885M150 903H425M120 912H480M478 680V770M478 810V905" fill="none" stroke="#8f8f8f" stroke-width="5"/>
<path d="M186 775H198V812H186ZM186 678H198V697H186ZM186 893H198V905H186ZM140 786H430V795H140Z" fill="#04e8f4"/>
<ellipse cx="289" cy="790" rx="9" ry="15" fill="#f80000" stroke="#04e8f4" stroke-width="6"/>
<path d="M105 778 125 798M125 778 105 798M105 898 125 924M125 898 105 924" stroke="#e8c8c8" stroke-width="2"/>
</g>
<rect x="1887" y="995" width="159" height="2" fill="#cdeee2"/>
<rect x="1887" y="997" width="159" height="31" fill="#55cfb0"/>

<!-- popup -->
<rect x="873" y="272" width="948" height="30" fill="#fff"/>
<rect x="873" y="300" width="948" height="566" fill="#1c3a36"/>
<rect x="881" y="279" width="16" height="15" fill="#f3e98a" stroke="#222"/><rect x="881" y="279" width="16" height="3" fill="#243a7a"/><path d="M884 284 894 292M894 284 884 292" stroke="#111" stroke-width="1.300"/>
<text x="902.500" y="292.500" font-family="'Liberation Sans',sans-serif" font-size="16" fill="#111" textLength="83" lengthAdjust="spacingAndGlyphs">Popview - 1</text>
<path d="M1801 281 1811 291M1811 281 1801 291" stroke="#111" stroke-width="1.200"/>
<rect x="876" y="303" width="905" height="530" fill="#000"/>
<rect x="876" y="833" width="908" height="3" fill="#b8ecdc"/>
<rect x="1781" y="303" width="3" height="533" fill="#b8ecdc"/>
<rect x="1785" y="303" width="34" height="533" fill="#55cfb0"/>
<rect x="875" y="839" width="944" height="26" fill="#9edcdc"/><path d="M876 839.500H1819M876 840V865" stroke="#e4f6f4" stroke-width="1.500"/><path d="M876 864H1819M1818 840V865" stroke="#3b6f6a" stroke-width="1.500"/>
<text x="1346" y="856" text-anchor="middle" font-family="'Liberation Mono',monospace" font-size="14.500" fill="#111">Close</text>
<svg x="876" y="303" width="905" height="530" viewBox="876 303 905 530">
<path fill="#47b6ff" d="M1002 303h6v530h-6zM1034 303h5v530h-5zM1501 444H1543V486H1501Z"/>
<g fill="#47b6ff"><circle cx="944" cy="573" r="18"/><circle cx="944" cy="692" r="18"/><circle cx="947" cy="808" r="18.500"/><circle cx="1632" cy="465" r="21"/><circle cx="1790" cy="339" r="17"/><circle cx="1790" cy="450" r="17"/><circle cx="1790" cy="559" r="17"/><circle cx="1790" cy="670" r="17"/><circle cx="1790" cy="780" r="17"/></g>
<path fill="#459900" d="M1253 303H1280V322H1253ZM1334 318H1412V385H1334ZM1213 438H1247V474H1213ZM1257 438H1291V474H1257ZM1319 438H1352V474H1319ZM1363 438H1396V474H1363ZM1405 492H1441V526H1405ZM1405 536H1441V570H1405ZM1065 522H1121V579H1065ZM1065 661H1121V717H1065ZM1285 522H1341V579H1285ZM1284 662H1343V718H1284ZM1376 592H1409V628H1376ZM1420 592H1453V628H1420ZM1376 643H1396V669H1376ZM1425 643H1444V669H1425ZM1378 685H1403V711H1378ZM1413 685H1438V711H1413ZM1450 690H1476V715H1450ZM1450 725H1476V750H1450ZM1075 822H1182V833H1075ZM1257 826H1282V833H1257ZM1292 826H1317V833H1292ZM1381 800H1403V833H1381ZM1409 800H1431V833H1409ZM1527 353H1559V413H1527ZM1596 353H1628V413H1596ZM1473 607H1506V643H1473ZM1517 607H1550V643H1517ZM1481 654H1506V680H1481ZM1517 654H1541V680H1517ZM1487 689H1507V711H1487ZM1516 689H1535V711H1516ZM1502 729H1521V751H1502ZM1547 707H1581V751H1547Z"/>
<path fill="#0028ff" d="M1688 303H1731V314H1688ZM1688 347H1731V379H1688ZM1654 658H1685V718H1654ZM1725 658H1756V718H1725ZM1657 755H1685V787H1657ZM1721 755H1749V787H1721ZM1599 777H1640V808H1599ZM1599 823H1640V833H1599ZM1599 711H1613V742H1599ZM1685 820 1698 806H1720L1733 820V833H1685Z"/>
<path fill="#459900" d="M1613 707H1647V751H1613Z"/>
<path fill="#47b6ff" d="M1613 711H1640V742H1613Z"/>
<g>
<rect x="1151" y="395" width="16" height="27" rx="3" fill="#47b6ff"/><rect x="1155.500" y="398" width="8" height="20" fill="#000"/><rect x="1156" y="398" width="7" height="13" fill="#f0002a"/><rect x="1154" y="396" width="2" height="8" fill="#d8a0d8"/><rect x="1163" y="396" width="2" height="8" fill="#d8a0d8"/>
<rect x="1450" y="395" width="17" height="27" rx="3" fill="#47b6ff"/><rect x="1454.500" y="398" width="8" height="20" fill="#000"/><rect x="1455" y="398" width="7" height="13" fill="#f0002a"/><rect x="1453" y="396" width="2" height="8" fill="#d8a0d8"/><rect x="1462" y="396" width="2" height="8" fill="#d8a0d8"/>
<rect x="1151" y="769" width="16" height="28" rx="3" fill="#47b6ff"/><rect x="1155.500" y="772" width="8" height="20" fill="#000"/><rect x="1156" y="772" width="7" height="13" fill="#f0002a"/><rect x="1154" y="770" width="2" height="8" fill="#d8a0d8"/><rect x="1163" y="770" width="2" height="8" fill="#d8a0d8"/>
<rect x="1450" y="769" width="17" height="28" rx="3" fill="#47b6ff"/><rect x="1454.500" y="772" width="8" height="20" fill="#000"/><rect x="1455" y="772" width="7" height="13" fill="#f0002a"/><rect x="1453" y="770" width="2" height="8" fill="#d8a0d8"/><rect x="1462" y="770" width="2" height="8" fill="#d8a0d8"/>
</g>
</svg>
<use href="#bP" x="1786" y="304"/><use href="#bP" x="1786" y="339"/><use href="#bP" x="1786" y="374"/><use href="#bP" x="1786" y="409"/><use href="#bP" x="1786" y="444"/><use href="#bP" x="1786" y="479"/><use href="#bP" x="1786" y="514"/>
<g fill="none" stroke="#111" stroke-width="1.500">
<rect x="1795" y="318" width="9" height="9"/><rect x="1806" y="312" width="5" height="5"/><path d="M1803 322H1797M1800 320 1797 322 1800 324"/>
<rect x="1797" y="353" width="12" height="9"/><path d="M1803 345 1798 352H1808Z" fill="#111"/>
<rect x="1797" y="382" width="12" height="9"/><path d="M1803 399 1798 392H1808Z" fill="#111"/>
<rect x="1801" y="420" width="8" height="12"/><path d="M1793 426 1800 421V431Z" fill="#111"/>
<rect x="1797" y="455" width="8" height="12"/><path d="M1813 461 1806 456V466Z" fill="#111"/>
<rect x="1800" y="493" width="6" height="6"/><path fill="#111" stroke="none" d="M1803 483 1798 489H1808ZM1803 509 1798 503H1808ZM1791 496 1797 491V501ZM1815 496 1809 491V501Z"/>
<rect x="1800" y="528" width="6" height="6"/><path fill="#111" stroke="none" d="M1803 518 1799 523H1807ZM1803 544 1799 539H1807ZM1793 531 1798 527V535ZM1813 531 1808 527V535Z"/>
</g>
</svg>
</body></html>
